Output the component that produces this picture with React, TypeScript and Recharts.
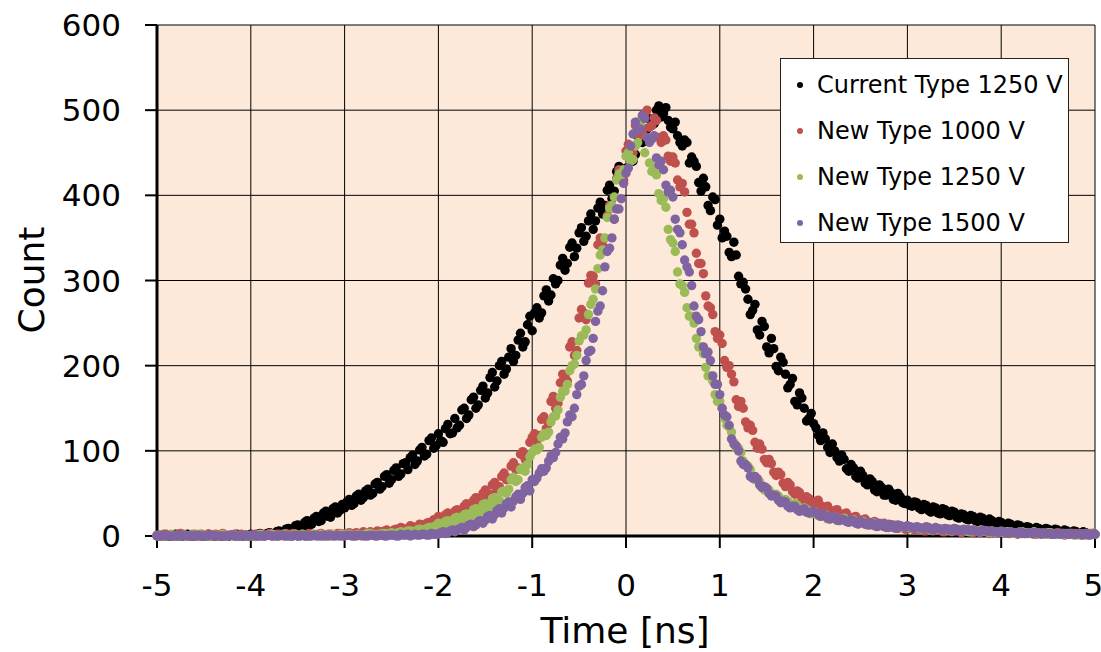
import React from 'react';
import { ScatterChart, Scatter, XAxis, YAxis, CartesianGrid } from 'recharts';

// time bins (ns), 0.05 ns wide
const TIME_NS = [
  -5, -4.95, -4.9, -4.85, -4.8, -4.75, -4.7, -4.65, -4.6, -4.55, -4.5, -4.45, -4.4, -4.35, -4.3, -4.25, -4.2, -4.15, -4.1, -4.05,
  -4, -3.95, -3.9, -3.85, -3.8, -3.75, -3.7, -3.65, -3.6, -3.55, -3.5, -3.45, -3.4, -3.35, -3.3, -3.25, -3.2, -3.15, -3.1, -3.05,
  -3, -2.95, -2.9, -2.85, -2.8, -2.75, -2.7, -2.65, -2.6, -2.55, -2.5, -2.45, -2.4, -2.35, -2.3, -2.25, -2.2, -2.15, -2.1, -2.05,
  -2, -1.95, -1.9, -1.85, -1.8, -1.75, -1.7, -1.65, -1.6, -1.55, -1.5, -1.45, -1.4, -1.35, -1.3, -1.25, -1.2, -1.15, -1.1, -1.05,
  -1, -0.95, -0.9, -0.85, -0.8, -0.75, -0.7, -0.65, -0.6, -0.55, -0.5, -0.45, -0.4, -0.35, -0.3, -0.25, -0.2, -0.15, -0.1, -0.05,
  0, 0.05, 0.1, 0.15, 0.2, 0.25, 0.3, 0.35, 0.4, 0.45, 0.5, 0.55, 0.6, 0.65, 0.7, 0.75, 0.8, 0.85, 0.9, 0.95,
  1, 1.05, 1.1, 1.15, 1.2, 1.25, 1.3, 1.35, 1.4, 1.45, 1.5, 1.55, 1.6, 1.65, 1.7, 1.75, 1.8, 1.85, 1.9, 1.95,
  2, 2.05, 2.1, 2.15, 2.2, 2.25, 2.3, 2.35, 2.4, 2.45, 2.5, 2.55, 2.6, 2.65, 2.7, 2.75, 2.8, 2.85, 2.9, 2.95,
  3, 3.05, 3.1, 3.15, 3.2, 3.25, 3.3, 3.35, 3.4, 3.45, 3.5, 3.55, 3.6, 3.65, 3.7, 3.75, 3.8, 3.85, 3.9, 3.95,
  4, 4.05, 4.1, 4.15, 4.2, 4.25, 4.3, 4.35, 4.4, 4.45, 4.5, 4.55, 4.6, 4.65, 4.7, 4.75, 4.8, 4.85, 4.9, 4.95,
  5,
];

// in-between bins, read as a second pass over the cloud
const TIME_NS_HALF = [
  -4.975, -4.925, -4.875, -4.825, -4.775, -4.725, -4.675, -4.625, -4.575, -4.525, -4.475, -4.425, -4.375, -4.325, -4.275, -4.225, -4.175, -4.125, -4.075, -4.025,
  -3.975, -3.925, -3.875, -3.825, -3.775, -3.725, -3.675, -3.625, -3.575, -3.525, -3.475, -3.425, -3.375, -3.325, -3.275, -3.225, -3.175, -3.125, -3.075, -3.025,
  -2.975, -2.925, -2.875, -2.825, -2.775, -2.725, -2.675, -2.625, -2.575, -2.525, -2.475, -2.425, -2.375, -2.325, -2.275, -2.225, -2.175, -2.125, -2.075, -2.025,
  -1.975, -1.925, -1.875, -1.825, -1.775, -1.725, -1.675, -1.625, -1.575, -1.525, -1.475, -1.425, -1.375, -1.325, -1.275, -1.225, -1.175, -1.125, -1.075, -1.025,
  -0.975, -0.925, -0.875, -0.825, -0.775, -0.725, -0.675, -0.625, -0.575, -0.525, -0.475, -0.425, -0.375, -0.325, -0.275, -0.225, -0.175, -0.125, -0.075, -0.025,
  0.025, 0.075, 0.125, 0.175, 0.225, 0.275, 0.325, 0.375, 0.425, 0.475, 0.525, 0.575, 0.625, 0.675, 0.725, 0.775, 0.825, 0.875, 0.925, 0.975,
  1.025, 1.075, 1.125, 1.175, 1.225, 1.275, 1.325, 1.375, 1.425, 1.475, 1.525, 1.575, 1.625, 1.675, 1.725, 1.775, 1.825, 1.875, 1.925, 1.975,
  2.025, 2.075, 2.125, 2.175, 2.225, 2.275, 2.325, 2.375, 2.425, 2.475, 2.525, 2.575, 2.625, 2.675, 2.725, 2.775, 2.825, 2.875, 2.925, 2.975,
  3.025, 3.075, 3.125, 3.175, 3.225, 3.275, 3.325, 3.375, 3.425, 3.475, 3.525, 3.575, 3.625, 3.675, 3.725, 3.775, 3.825, 3.875, 3.925, 3.975,
  4.025, 4.075, 4.125, 4.175, 4.225, 4.275, 4.325, 4.375, 4.425, 4.475, 4.525, 4.575, 4.625, 4.675, 4.725, 4.775, 4.825, 4.875, 4.925, 4.975,
];

const CURRENT_1250V = [
  0, 1, 0, 0, 2, 0, 1, 0, 0, 1, 0, 2, 0, 1, 0, 0, 1, 2, 0, 1,
  2, 0, 3, 1, 4, 2, 6, 3, 9, 6, 13, 9, 18, 14, 23, 18, 29, 22, 34, 30,
  33, 43, 38, 49, 45, 55, 50, 63, 58, 72, 66, 80, 73, 86, 92, 84, 101, 94, 112, 103,
  120, 110, 131, 121, 127, 148, 138, 160, 150, 171, 162, 186, 175, 200, 190, 210, 205, 230, 222, 248,
  241, 268, 262, 289, 283, 296, 318, 312, 339, 328, 356, 346, 370, 360, 385, 378, 406, 396, 428, 418,
  432, 455, 448, 472, 466, 490, 484, 505, 496, 488, 478, 470, 458, 462, 445, 434, 405, 410, 382, 395,
  372, 358, 333, 345, 305, 298, 278, 265, 242, 252, 222, 232, 199, 210, 190, 178, 158, 168, 150, 138,
  132, 118, 121, 104, 108, 92, 95, 79, 84, 70, 76, 62, 67, 54, 60, 48, 55, 43, 50, 39,
  42, 35, 39, 31, 36, 28, 33, 26, 31, 24, 28, 21, 25, 19, 23, 17, 21, 15, 18, 14,
  16, 12, 14, 10, 12, 9, 10, 7, 9, 6, 8, 5, 7, 4, 6, 3, 5, 3, 4, 2,
  2,
];
const CURRENT_1250V_HALF = [
  1, 0, 0, 1, 0, 0, 2, 0, 1, 0, 0, 1, 0, 0, 1, 0, 0, 1, 0, 0,
  0, 2, 1, 3, 1, 5, 3, 8, 5, 12, 8, 16, 13, 21, 17, 27, 23, 32, 27, 37,
  40, 36, 47, 42, 53, 48, 61, 55, 70, 62, 77, 70, 85, 78, 95, 88, 104, 96, 115, 106,
  112, 126, 120, 138, 130, 150, 142, 163, 154, 176, 168, 192, 182, 205, 196, 220, 212, 238, 228, 258,
  262, 256, 282, 276, 302, 300, 326, 320, 344, 338, 362, 352, 378, 370, 392, 388, 412, 405, 434, 428,
  448, 440, 470, 462, 478, 482, 500, 492, 503, 480, 486, 462, 465, 438, 440, 415, 420, 388, 398, 365,
  350, 352, 328, 330, 296, 290, 260, 272, 236, 246, 215, 220, 194, 204, 174, 185, 154, 162, 135, 144,
  127, 112, 114, 98, 100, 88, 90, 76, 80, 68, 71, 60, 64, 52, 57, 48, 51, 42, 46, 38,
  36, 40, 33, 37, 30, 34, 27, 32, 25, 29, 22, 26, 20, 24, 18, 22, 16, 20, 14, 17,
  13, 15, 11, 13, 10, 11, 8, 10, 7, 9, 6, 8, 5, 7, 4, 6, 3, 5, 2, 3,
];

const NEW_1000V = [
  1, 0, 2, 1, 0, 3, 1, 0, 2, 0, 1, 2, 0, 1, 3, 0, 1, 0, 2, 1,
  0, 2, 1, 0, 3, 1, 2, 0, 1, 3, 0, 2, 1, 2, 0, 3, 1, 2, 1, 3,
  2, 4, 1, 3, 5, 2, 4, 6, 3, 7, 5, 8, 10, 7, 12, 9, 14, 12, 16, 19,
  23, 19, 27, 23, 31, 27, 38, 33, 45, 40, 54, 49, 63, 58, 74, 68, 86, 80, 99, 94,
  116, 112, 137, 126, 158, 150, 180, 188, 222, 212, 256, 262, 297, 305, 342, 346, 376, 385, 420, 428,
  452, 456, 482, 470, 496, 480, 491, 468, 470, 446, 445, 418, 414, 380, 366, 332, 320, 282, 268, 240,
  236, 206, 200, 181, 152, 150, 127, 124, 103, 102, 86, 85, 71, 72, 58, 60, 49, 51, 42, 44,
  38, 42, 31, 35, 27, 31, 23, 27, 19, 23, 16, 20, 13, 17, 12, 15, 10, 13, 9, 11,
  8, 10, 7, 9, 6, 9, 7, 8, 5, 8, 6, 7, 5, 7, 4, 6, 5, 6, 4, 5,
  4, 5, 3, 4, 5, 3, 4, 2, 4, 3, 3, 2, 4, 2, 3, 2, 3, 1, 2, 3,
  2,
];
const NEW_1000V_HALF = [
  0, 2, 1, 0, 1, 2, 0, 1, 0, 2, 1, 0, 2, 1, 0, 1, 2, 0, 1, 0,
  1, 0, 2, 1, 0, 2, 1, 3, 0, 2, 1, 0, 3, 1, 2, 0, 2, 1, 3, 2,
  3, 2, 4, 3, 2, 5, 3, 5, 6, 4, 7, 6, 9, 8, 11, 10, 13, 15, 14, 18,
  20, 25, 22, 29, 26, 35, 30, 42, 38, 50, 46, 60, 55, 70, 66, 82, 78, 96, 90, 110,
  120, 118, 140, 132, 164, 156, 190, 182, 228, 218, 266, 254, 306, 296, 350, 338, 388, 372, 430, 418,
  460, 450, 486, 476, 500, 482, 488, 462, 465, 440, 438, 410, 404, 366, 356, 320, 308, 270, 260, 232,
  226, 198, 190, 160, 158, 134, 130, 110, 108, 90, 90, 75, 75, 62, 63, 52, 53, 44, 46, 39,
  41, 36, 34, 29, 30, 25, 26, 21, 22, 17, 19, 15, 16, 12, 14, 11, 12, 10, 11, 8,
  9, 7, 8, 6, 8, 6, 7, 5, 7, 5, 6, 4, 6, 5, 5, 4, 5, 3, 4, 4,
  5, 3, 4, 2, 3, 4, 3, 2, 3, 2, 2, 3, 3, 1, 2, 3, 2, 2, 1, 2,
];

const NEW_1250V = [
  0, 1, 0, 2, 1, 0, 1, 0, 0, 2, 1, 0, 1, 0, 2, 0, 1, 1, 0, 0,
  1, 0, 2, 0, 1, 1, 0, 2, 1, 0, 1, 2, 0, 1, 0, 2, 1, 0, 1, 2,
  1, 2, 0, 2, 1, 3, 2, 1, 3, 2, 4, 3, 5, 4, 6, 5, 8, 7, 10, 11,
  15, 12, 18, 16, 22, 19, 26, 24, 32, 29, 38, 35, 45, 42, 53, 55, 69, 66, 80, 84,
  98, 101, 116, 118, 134, 141, 163, 170, 194, 202, 229, 236, 260, 278, 314, 336, 374, 388, 418, 424,
  446, 440, 458, 482, 450, 438, 430, 402, 396, 360, 344, 310, 294, 268, 258, 232, 222, 198, 188, 166,
  158, 138, 128, 110, 103, 88, 82, 70, 67, 57, 56, 48, 49, 42, 43, 36, 38, 31, 33, 27,
  28, 24, 23, 20, 21, 18, 20, 17, 18, 16, 16, 14, 15, 13, 14, 12, 13, 11, 12, 10,
  11, 9, 10, 8, 10, 7, 9, 8, 8, 6, 8, 7, 7, 5, 7, 6, 6, 5, 6, 4,
  5, 4, 5, 3, 4, 4, 3, 5, 3, 2, 4, 3, 2, 3, 2, 3, 1, 2, 3, 2,
  2,
];
const NEW_1250V_HALF = [
  1, 0, 1, 0, 0, 1, 0, 2, 0, 1, 0, 0, 1, 1, 0, 1, 0, 0, 1, 0,
  0, 1, 0, 1, 2, 0, 1, 0, 1, 2, 0, 1, 0, 2, 1, 0, 1, 2, 0, 1,
  2, 1, 1, 0, 2, 3, 1, 2, 3, 3, 2, 4, 4, 6, 5, 7, 6, 9, 8, 12,
  14, 17, 15, 21, 19, 25, 23, 31, 27, 37, 33, 44, 40, 52, 50, 66, 64, 78, 76, 93,
  102, 104, 120, 122, 140, 148, 170, 178, 200, 212, 235, 242, 272, 290, 330, 350, 385, 398, 425, 430,
  450, 442, 462, 492, 468, 428, 424, 394, 386, 348, 334, 296, 286, 258, 250, 222, 214, 188, 182, 158,
  150, 130, 122, 103, 98, 83, 78, 66, 64, 54, 54, 47, 47, 41, 41, 35, 36, 30, 31, 26,
  27, 23, 25, 20, 22, 19, 21, 17, 19, 15, 17, 14, 16, 12, 14, 11, 13, 10, 12, 10,
  10, 9, 9, 8, 9, 7, 8, 7, 8, 6, 7, 6, 7, 5, 6, 5, 6, 4, 5, 4,
  4, 5, 3, 4, 5, 3, 4, 3, 3, 2, 4, 2, 3, 2, 3, 1, 2, 2, 1, 2,
];

const NEW_1500V = [
  0, 0, 1, 0, 0, 1, 0, 0, 0, 1, 0, 0, 1, 0, 0, 0, 1, 0, 0, 0,
  0, 1, 0, 0, 1, 0, 0, 1, 0, 0, 0, 1, 0, 0, 1, 0, 0, 1, 0, 0,
  0, 1, 0, 1, 0, 0, 1, 0, 1, 0, 1, 0, 2, 1, 0, 2, 1, 2, 1, 2,
  2, 5, 4, 7, 7, 10, 10, 14, 13, 18, 19, 24, 25, 32, 33, 40, 41, 49, 50, 59,
  66, 68, 79, 80, 94, 98, 116, 121, 142, 150, 176, 188, 216, 232, 264, 288, 334, 350, 384, 396,
  426, 458, 486, 478, 490, 462, 470, 436, 430, 404, 398, 360, 342, 316, 294, 258, 240, 214, 206, 178,
  166, 142, 130, 108, 100, 84, 80, 68, 67, 57, 56, 47, 47, 39, 40, 33, 35, 29, 32, 27,
  29, 25, 26, 21, 23, 19, 20, 17, 19, 15, 17, 14, 16, 12, 15, 11, 14, 10, 13, 11,
  12, 10, 11, 9, 11, 8, 10, 8, 9, 7, 9, 6, 8, 7, 7, 5, 7, 6, 6, 5,
  6, 4, 5, 4, 5, 3, 4, 4, 3, 4, 3, 2, 3, 3, 2, 3, 2, 2, 3, 1,
  2,
];
const NEW_1500V_HALF = [
  0, 1, 0, 0, 0, 1, 0, 1, 0, 0, 0, 1, 0, 0, 0, 1, 0, 0, 1, 0,
  1, 0, 0, 1, 0, 0, 1, 0, 0, 1, 0, 0, 0, 1, 0, 1, 0, 0, 1, 0,
  1, 0, 0, 1, 0, 1, 0, 1, 0, 1, 1, 0, 1, 2, 1, 1, 2, 1, 3, 2,
  4, 3, 6, 5, 9, 7, 13, 11, 17, 15, 23, 20, 30, 27, 38, 34, 46, 43, 57, 53,
  64, 74, 76, 88, 92, 108, 114, 134, 140, 166, 178, 206, 218, 252, 270, 316, 338, 372, 384, 414,
  432, 472, 478, 494, 468, 466, 444, 440, 412, 406, 372, 356, 324, 310, 270, 254, 222, 216, 188, 178,
  150, 140, 114, 106, 88, 84, 70, 70, 60, 58, 50, 48, 42, 41, 35, 35, 31, 31, 28, 28,
  27, 23, 24, 20, 22, 18, 19, 16, 18, 14, 16, 13, 15, 11, 14, 10, 13, 9, 12, 10,
  11, 9, 10, 8, 10, 7, 9, 7, 8, 6, 8, 6, 7, 6, 6, 5, 6, 5, 5, 4,
  5, 4, 4, 3, 4, 3, 3, 4, 2, 3, 3, 2, 2, 3, 2, 2, 3, 1, 2, 2,
];

const X_TICKS = [-5, -4, -3, -2, -1, 0, 1, 2, 3, 4, 5];
const Y_TICKS = [0, 100, 200, 300, 400, 500, 600];

const SERIES = [
  { name: 'Current Type 1250 V', color: '#000000', counts: CURRENT_1250V, half: CURRENT_1250V_HALF },
  { name: 'New Type 1000 V', color: '#c0504d', counts: NEW_1000V, half: NEW_1000V_HALF },
  { name: 'New Type 1250 V', color: '#9bbb59', counts: NEW_1250V, half: NEW_1250V_HALF },
  { name: 'New Type 1500 V', color: '#8064a2', counts: NEW_1500V, half: NEW_1500V_HALF },
];

const FONT = '"DejaVu Sans", Verdana, sans-serif';

const dot = (color: string) => (props: any) => (
  <circle cx={props.cx} cy={props.cy} r={4.7} fill={color} />
);

const LegendBox = () => (
  <div
    style={{
      position: 'absolute',
      left: 780,
      top: 58,
      width: 289,
      height: 185,
      boxSizing: 'border-box',
      background: '#ffffff',
      border: '1.5px solid #222',
      padding: '3px 0 0 16px',
      fontFamily: FONT,
      fontSize: 24,
      color: '#000',
    }}
  >
    {SERIES.map((s) => (
      <div key={s.name} style={{ height: 46, display: 'flex', alignItems: 'center', whiteSpace: 'nowrap' }}>
        <span
          style={{
            display: 'inline-block',
            width: 6,
            height: 6,
            borderRadius: 3,
            background: s.color,
            marginRight: 14,
          }}
        />
        <span>{s.name}</span>
      </div>
    ))}
  </div>
);

export default function App() {
  return (
    <div style={{ position: 'absolute', left: 0, top: 0, width: 1101, height: 652, background: '#fff' }}>
      <ScatterChart width={1101} height={652} margin={{ top: 25, right: 6, bottom: 0, left: 0 }}>
        <CartesianGrid fill="#fde9d9" fillOpacity={1} stroke="#000" strokeWidth={1} />
        <XAxis
          type="number"
          dataKey="t"
          domain={[-5, 5]}
          ticks={X_TICKS}
          height={116}
          tickSize={12}
          tickMargin={26}
          axisLine={{ stroke: '#000', strokeWidth: 3 }}
          tickLine={{ stroke: '#000', strokeWidth: 2 }}
          tick={{ fill: '#000', fontSize: 31, fontFamily: FONT }}
          label={() => (
            <text x={625} y={643} textAnchor="middle" fontSize={36} fontFamily={FONT} fill="#000">
              Time [ns]
            </text>
          )}
        />
        <YAxis
          type="number"
          dataKey="c"
          domain={[0, 600]}
          ticks={Y_TICKS}
          width={157}
          tickSize={12}
          tickMargin={24}
          axisLine={{ stroke: '#000', strokeWidth: 3 }}
          tickLine={{ stroke: '#000', strokeWidth: 2 }}
          tick={{ fill: '#000', fontSize: 31, fontFamily: FONT }}
          label={() => (
            <text
              x={44}
              y={280}
              textAnchor="middle"
              fontSize={36}
              fontFamily={FONT}
              fill="#000"
              transform="rotate(-90, 44, 280)"
            >
              Count
            </text>
          )}
        />
        {SERIES.map((s) => (
          <Scatter
            key={s.name}
            name={s.name}
            data={[
              ...TIME_NS.map((t, i) => ({ t, c: s.counts[i] })),
              ...TIME_NS_HALF.map((t, i) => ({ t, c: s.half[i] })),
            ]}
            fill={s.color}
            shape={dot(s.color)}
            isAnimationActive={false}
          />
        ))}
      </ScatterChart>
      <LegendBox />
    </div>
  );
}
